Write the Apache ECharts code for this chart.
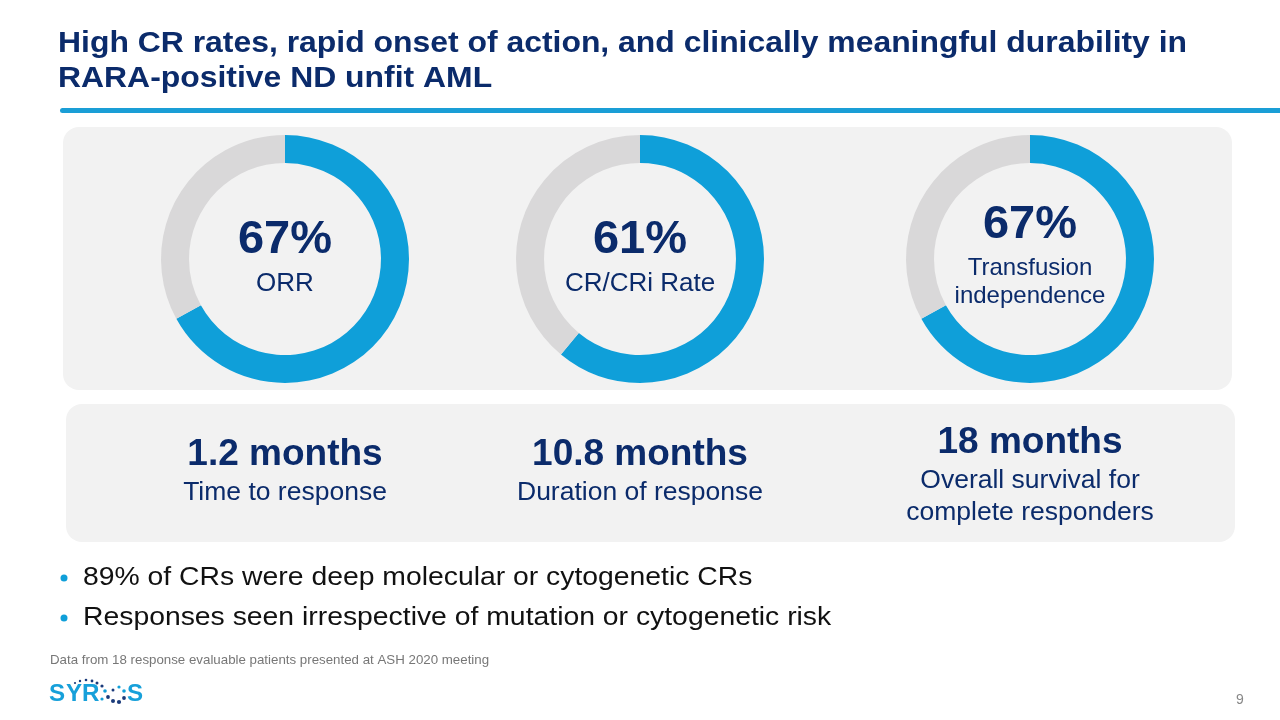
<!DOCTYPE html>
<html><head><meta charset="utf-8">
<script src="https://cdn.jsdelivr.net/npm/echarts@6/dist/echarts.min.js"></script>
<style>html,body{margin:0;padding:0;background:#fff}#c{width:1280px;height:720px}</style>
</head><body><div id="c"></div>
<script>
const titleLines = ['High CR rates, rapid onset of action, and clinically meaningful durability in', 'RARA-positive ND unfit AML'];
const donutValues = [67, 61, 67];
const donutCaptions = [['ORR'], ['CR/CRi Rate'], ['Transfusion', 'independence']];
const statValues = ['1.2 months', '10.8 months', '18 months'];
const statCaptions = [['Time to response'], ['Duration of response'], ['Overall survival for', 'complete responders']];
const bullets = ['89% of CRs were deep molecular or cytogenetic CRs', 'Responses seen irrespective of mutation or cytogenetic risk'];
const footnote = 'Data from 18 response evaluable patients presented at ASH 2020 meeting';
const pageNumber = '9';

const FF = 'Liberation Sans';
const NAVY = '#0b2b6b';
const BLUE = '#0f9fd9';
const GREY = '#d9d8d9';
const centersX = [285, 640, 1030];
const centerY = 259;

const chart = echarts.init(document.getElementById('c'), null, {renderer: 'canvas'});

const series = donutValues.map((v, i) => ({
  type: 'pie',
  center: [centersX[i], centerY],
  radius: [96, 124],
  startAngle: 90,
  clockwise: true,
  silent: true,
  label: {show: false},
  labelLine: {show: false},
  emphasis: {disabled: true},
  z: 5,
  data: [
    {value: v, itemStyle: {color: BLUE}},
    {value: 100 - v, itemStyle: {color: GREY}}
  ]
}));

function txt(x, y, text, size, weight, fill, align, sx) {
  return {type: 'text', x: x, y: y, z: 10, scaleX: sx || 1,
    style: {text: text, fontFamily: FF, fontSize: size, fontWeight: weight, fill: fill,
      align: align || 'left', verticalAlign: 'middle'}};
}

const g = [];
titleLines.forEach((t, i) => g.push(txt(58, 44 + i * 35, t, 29, 'bold', NAVY, 'left', 1.1)));
g.push({type: 'rect', shape: {x: 60, y: 108, width: 1230, height: 5, r: 2.5}, style: {fill: '#1a9ed6'}, z: 10});
g.push({type: 'rect', shape: {x: 63, y: 127, width: 1169, height: 263, r: 16}, style: {fill: '#f2f2f2'}, z: 0});
g.push({type: 'rect', shape: {x: 66, y: 404, width: 1169, height: 138, r: 16}, style: {fill: '#f2f2f2'}, z: 0});
donutValues.forEach((v, i) => {
  const caps = donutCaptions[i];
  const two = caps.length > 1;
  const pctY = two ? 225 : 240;
  g.push(txt(centersX[i], pctY, v + '%', 47, 'bold', NAVY, 'center'));
  caps.forEach((c, j) => g.push(txt(centersX[i], pctY + (two ? 43 : 44) + j * 28, c, two ? 24 : 26, 'normal', NAVY, 'center')));
});
statValues.forEach((s, i) => {
  const caps = statCaptions[i];
  const sy = caps.length > 1 ? 443 : 455;
  g.push(txt(centersX[i], sy, s, 37, 'bold', NAVY, 'center'));
  caps.forEach((c, j) => g.push(txt(centersX[i], sy + 38 + j * 32, c, 26.5, 'normal', NAVY, 'center')));
});
bullets.forEach((b, i) => {
  g.push({type: 'circle', shape: {cx: 64, cy: 578 + i * 40, r: 3.5}, style: {fill: BLUE}, z: 10});
  g.push(txt(83, 578 + i * 40, b, 26, 'normal', '#111111', 'left', 1.09));
});
g.push(txt(50, 660, footnote, 13.3, 'normal', '#777777'));
g.push(txt(1240, 700, pageNumber, 14, 'normal', '#888888', 'center'));
[['S', 49], ['Y', 66], ['R', 82], ['S', 127]].forEach(l => g.push(txt(l[1], 695, l[0], 23, 'bold', '#17a0da', 'left', 1.05)));
const dots = [[75,683,1.1,'#1a3a7a'],[80,681,1.2,'#1a3a7a'],[86,680,1.3,'#1a3a7a'],[92,681,1.4,'#1a3a7a'],[97,683,1.5,'#1a3a7a'],
  [102,686,1.6,'#1a3a7a'],[105,691,1.8,'#0f9fd9'],[108,697,1.9,'#1a3a7a'],[113,701,2,'#1a3a7a'],[119,702,2.1,'#1a3a7a'],
  [124,698,1.9,'#1a3a7a'],[124,691,1.8,'#0f9fd9'],[119,687,1.6,'#0f9fd9'],[113,690,1.5,'#1a3a7a'],[102,699,1.6,'#0f9fd9']];
dots.forEach(d => g.push({type: 'circle', shape: {cx: d[0], cy: d[1], r: d[2]}, style: {fill: d[3]}, z: 10}));

chart.setOption({
  animation: false,
  backgroundColor: '#ffffff',
  series: series,
  graphic: {elements: g}
});
</script></body></html>
